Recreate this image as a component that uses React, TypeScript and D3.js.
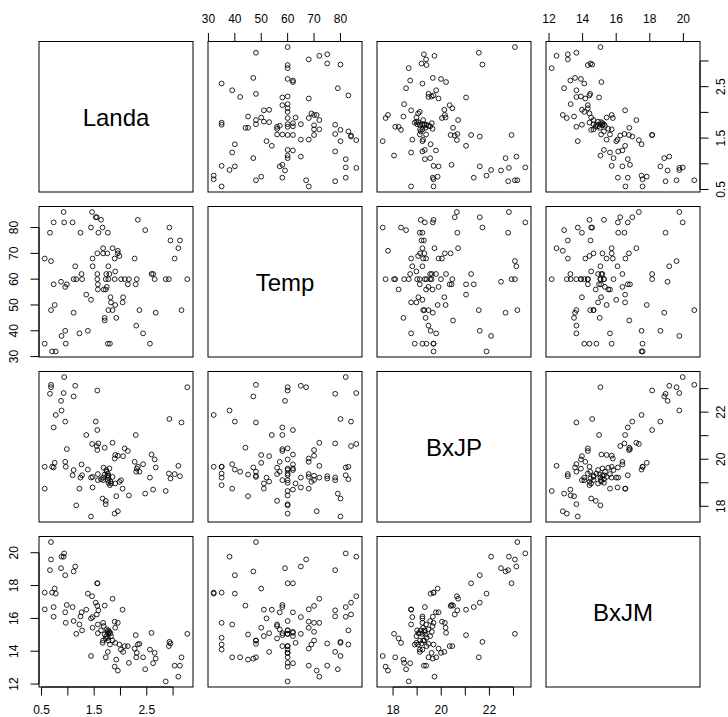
import React from "react";
import * as d3 from "d3";

// Observations (one entry per sample, same order in every array)
const landa = [
  0.68, 0.93, 0.88, 0.92, 0.68, 1.14, 0.87, 0.66, 1.11, 0.95,
  1.56, 1.56, 0.75, 0.56, 0.70, 0.77, 1.38, 1.46, 1.85, 1.53,
  0.98, 1.70, 1.56, 0.73, 1.09, 0.56, 1.35, 2.04, 1.58, 0.95,
  1.26, 1.55, 1.24, 0.73, 1.47, 1.44, 1.11, 1.89, 0.96, 1.67,
  1.95, 1.22, 1.57, 1.68, 1.47, 1.90, 1.74, 1.27, 1.63, 1.77,
  1.79, 1.75, 2.59, 1.57, 1.81, 1.16, 1.77, 3.27, 1.70, 2.29,
  1.73, 1.82, 1.76, 1.72, 1.67, 1.77, 1.85, 2.93, 1.66, 1.90,
  2.95, 2.36, 1.80, 1.98, 2.33, 2.08, 2.14, 2.92, 2.27, 2.01,
  2.56, 2.05, 1.76, 2.31, 2.65, 1.44, 2.43, 2.30, 1.72, 3.16,
  2.67, 1.92, 2.16, 2.62, 3.03, 3.13, 1.89, 2.47, 1.95, 3.10, 2.86,
];

const temp = [
  48, 82, 38, 86, 67, 65, 59, 78, 47, 40,
  60, 62, 50, 35, 32, 32, 40, 86, 72, 84,
  58, 44, 70, 58, 82, 68, 54, 51, 78, 57,
  62, 84, 78, 82, 65, 52, 60, 68, 35, 72,
  70, 39, 56, 56, 68, 50, 57, 60, 83, 60,
  62, 70, 62, 58, 53, 60, 65, 60, 45, 58,
  62, 51, 35, 56, 70, 48, 48, 80, 80, 63,
  75, 48, 35, 69, 83, 60, 58, 60, 68, 60,
  35, 53, 78, 60, 60, 80, 39, 42, 60, 48,
  47, 45, 60, 62, 68, 75, 60, 79, 71, 72, 60,
];

const bxjp = [
  23.16, 23.49, 22.07, 22.81, 23.06, 23.12, 22.48, 22.78, 22.67, 21.6,
  22.92, 21.24, 19.85, 19.68, 19.68, 21.88, 19.56, 20.65, 20.7, 21.6,
  20.43, 20.49, 20.39, 21.35, 19.32, 18.75, 21.03, 18.75, 20.67, 19.89,
  19.78, 20.56, 19.22, 19.65, 18.8, 19.22, 19.54, 20.03, 19.68, 19.22,
  20.15, 18.75, 19.37, 19.64, 19.25, 20.18, 19.47, 19.32, 19.15, 19.0,
  19.61, 19.3, 20.2, 19.11, 19.05, 18.04, 19.22, 23.06, 19.35, 21.03,
  19.54, 18.97, 19.39, 18.23, 19.12, 19.3, 19.25, 21.71, 18.33, 18.97,
  19.18, 19.47, 18.9, 19.04, 19.68, 20.46, 20.35, 19.39, 19.89, 19.11,
  19.22, 20.13, 19.11, 19.6, 19.99, 17.57, 19.79, 19.47, 18.09, 21.56,
  19.65, 18.43, 18.46, 18.71, 19.37, 19.28, 17.69, 18.54, 17.79, 19.72, 18.65,
];

const bxjm = [
  20.65, 19.96, 19.76, 19.76, 19.59, 19.16, 19.06, 18.94, 18.86, 18.63,
  18.14, 18.14, 17.82, 17.57, 17.57, 17.51, 17.51, 17.35, 17.2, 16.96,
  16.82, 16.78, 16.76, 16.69, 16.69, 16.55, 16.53, 16.53, 16.49, 16.37,
  16.37, 16.24, 16.12, 16.1, 16.08, 16.0, 15.84, 15.8, 15.73, 15.73,
  15.73, 15.63, 15.63, 15.53, 15.43, 15.43, 15.33, 15.27, 15.27, 15.27,
  15.18, 15.18, 15.12, 15.1, 15.1, 15.06, 15.06, 15.06, 15.02, 14.98,
  14.92, 14.92, 14.82, 14.78, 14.65, 14.65, 14.65, 14.57, 14.51, 14.51,
  14.47, 14.45, 14.41, 14.41, 14.41, 14.31, 14.31, 14.31, 14.16, 14.1,
  14.1, 13.96, 13.96, 13.9, 13.9, 13.71, 13.63, 13.63, 13.63, 13.63,
  13.55, 13.49, 13.29, 13.27, 13.12, 13.12, 13.06, 12.9, 12.82, 12.45, 12.16,
];

// Axis ticks and which of them carry a label
const landaTicks = [0.5, 1.0, 1.5, 2.0, 2.5, 3.0];
const landaLabels = [0.5, 1.5, 2.5];
const tempTicks = [30, 40, 50, 60, 70, 80];
const tempLabels = [30, 40, 50, 60, 70, 80];
const bxjpTicks = [18, 19, 20, 21, 22, 23];
const bxjpLabels = [18, 20, 22];
const bxjmTicks = [12, 14, 16, 18, 20];
const bxjmLabels = [12, 14, 16, 18, 20];

const variableNames = ["Landa", "Temp", "BxJP", "BxJM"];

const W = 728;
const H = 717;
const colLeft = 39;
const colStep = 169;
const cellW = 154;
const rowTop = 41.5;
const rowStep = 165;
const cellH = 150.5;
const tickLen = 8.5;
const FONT = "'Liberation Sans', Arial, Helvetica, sans-serif";

type Variable = {
  name: string;
  values: number[];
  ticks: number[];
  labels: number[];
  fmt: (v: number) => string;
};

const variables: Variable[] = [
  { name: variableNames[0], values: landa, ticks: landaTicks, labels: landaLabels, fmt: d3.format(".1f") },
  { name: variableNames[1], values: temp, ticks: tempTicks, labels: tempLabels, fmt: d3.format("d") },
  { name: variableNames[2], values: bxjp, ticks: bxjpTicks, labels: bxjpLabels, fmt: d3.format("d") },
  { name: variableNames[3], values: bxjm, ticks: bxjmTicks, labels: bxjmLabels, fmt: d3.format("d") },
];

// Padded domain: data range extended by 4% on each side
function paddedDomain(values: number[]): [number, number] {
  const [lo, hi] = d3.extent(values) as [number, number];
  const pad = (hi - lo) * 0.04;
  return [lo - pad, hi + pad];
}

export default function App() {
  const n = variables.length;
  const xScales = variables.map((v, j) =>
    d3.scaleLinear().domain(paddedDomain(v.values)).range([colLeft + j * colStep, colLeft + j * colStep + cellW])
  );
  const yScales = variables.map((v, i) =>
    d3.scaleLinear().domain(paddedDomain(v.values)).range([rowTop + i * rowStep + cellH, rowTop + i * rowStep])
  );

  const panels: React.ReactNode[] = [];
  for (let i = 0; i < n; i++) {
    for (let j = 0; j < n; j++) {
      const x0 = colLeft + j * colStep;
      const y0 = rowTop + i * rowStep;
      const key = `p-${i}-${j}`;
      if (i === j) {
        panels.push(
          <g key={key}>
            <rect x={x0} y={y0} width={cellW} height={cellH} fill="none" stroke="#000" strokeWidth={1} />
            <text
              x={x0 + cellW / 2}
              y={y0 + cellH / 2 + 1}
              textAnchor="middle"
              dominantBaseline="central"
              fontFamily={FONT}
              fontSize={24}
              fill="#000"
            >
              {variables[i].name}
            </text>
          </g>
        );
      } else {
        const xs = xScales[j];
        const ys = yScales[i];
        const xv = variables[j].values;
        const yv = variables[i].values;
        panels.push(
          <g key={key}>
            <rect x={x0} y={y0} width={cellW} height={cellH} fill="none" stroke="#000" strokeWidth={1} />
            {xv.map((xd, k) => (
              <circle
                key={k}
                cx={xs(xd)}
                cy={ys(yv[k])}
                r={2.4}
                fill="none"
                stroke="#000"
                strokeWidth={0.85}
              />
            ))}
          </g>
        );
      }
    }
  }

  // Outer axes, alternating sides as in a scatterplot matrix
  const axes: React.ReactNode[] = [];
  for (let j = 0; j < n; j++) {
    const v = variables[j];
    const xs = xScales[j];
    if (j % 2 === 1) {
      // top axis on the first row
      const y = rowTop;
      axes.push(
        <g key={`top-${j}`}>
          <line x1={xs(v.ticks[0])} x2={xs(v.ticks[v.ticks.length - 1])} y1={y} y2={y} stroke="#000" />
          {v.ticks.map((t) => (
            <line key={t} x1={xs(t)} x2={xs(t)} y1={y} y2={y - tickLen} stroke="#000" />
          ))}
          {v.labels.map((t) => (
            <text key={t} x={xs(t)} y={y - 22.5} textAnchor="middle" dominantBaseline="central" fontFamily={FONT} fontSize={12}>
              {v.fmt(t)}
            </text>
          ))}
        </g>
      );
    } else {
      // bottom axis on the last row
      const y = rowTop + (n - 1) * rowStep + cellH;
      axes.push(
        <g key={`bottom-${j}`}>
          <line x1={xs(v.ticks[0])} x2={xs(v.ticks[v.ticks.length - 1])} y1={y} y2={y} stroke="#000" />
          {v.ticks.map((t) => (
            <line key={t} x1={xs(t)} x2={xs(t)} y1={y} y2={y + tickLen} stroke="#000" />
          ))}
          {v.labels.map((t) => (
            <text key={t} x={xs(t)} y={y + 23} textAnchor="middle" dominantBaseline="central" fontFamily={FONT} fontSize={12}>
              {v.fmt(t)}
            </text>
          ))}
        </g>
      );
    }
  }
  for (let i = 0; i < n; i++) {
    const v = variables[i];
    const ys = yScales[i];
    if (i % 2 === 1) {
      // left axis on the first column
      const x = colLeft;
      axes.push(
        <g key={`left-${i}`}>
          <line x1={x} x2={x} y1={ys(v.ticks[0])} y2={ys(v.ticks[v.ticks.length - 1])} stroke="#000" />
          {v.ticks.map((t) => (
            <line key={t} x1={x} x2={x - tickLen} y1={ys(t)} y2={ys(t)} stroke="#000" />
          ))}
          {v.labels.map((t) => (
            <text
              key={t}
              transform={`translate(${x - 25.5},${ys(t)}) rotate(-90)`}
              textAnchor="middle"
              dominantBaseline="central"
              fontFamily={FONT}
              fontSize={12}
            >
              {v.fmt(t)}
            </text>
          ))}
        </g>
      );
    } else {
      // right axis on the last column
      const x = colLeft + (n - 1) * colStep + cellW;
      axes.push(
        <g key={`right-${i}`}>
          <line x1={x} x2={x} y1={ys(v.ticks[0])} y2={ys(v.ticks[v.ticks.length - 1])} stroke="#000" />
          {v.ticks.map((t) => (
            <line key={t} x1={x} x2={x + tickLen} y1={ys(t)} y2={ys(t)} stroke="#000" />
          ))}
          {v.labels.map((t) => (
            <text
              key={t}
              transform={`translate(${x + 21},${ys(t)}) rotate(-90)`}
              textAnchor="middle"
              dominantBaseline="central"
              fontFamily={FONT}
              fontSize={12}
            >
              {v.fmt(t)}
            </text>
          ))}
        </g>
      );
    }
  }

  return (
    <div style={{ position: "absolute", left: 0, top: 0 }}>
      <svg width={W} height={H} viewBox={`0 0 ${W} ${H}`} style={{ display: "block", background: "#fff" }}>
        <rect x={0} y={0} width={W} height={H} fill="#fff" />
        {panels}
        {axes}
      </svg>
    </div>
  );
}
